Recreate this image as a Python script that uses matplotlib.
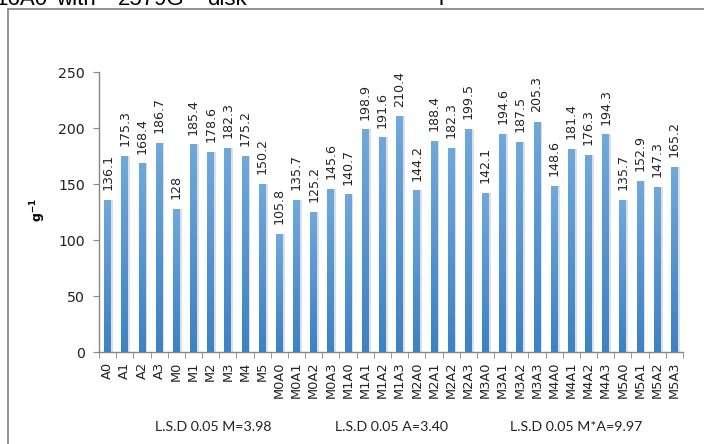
import numpy as np
import matplotlib
matplotlib.use("Agg")
from matplotlib import pyplot as plt
from matplotlib.colors import LinearSegmentedColormap
from matplotlib.lines import Line2D

categories = ["A0", "A1", "A2", "A3",
              "M0", "M1", "M2", "M3", "M4", "M5",
              "M0A0", "M0A1", "M0A2", "M0A3",
              "M1A0", "M1A1", "M1A2", "M1A3",
              "M2A0", "M2A1", "M2A2", "M2A3",
              "M3A0", "M3A1", "M3A2", "M3A3",
              "M4A0", "M4A1", "M4A2", "M4A3",
              "M5A0", "M5A1", "M5A2", "M5A3"]
values = [136.1, 175.3, 168.4, 186.7,
          128, 185.4, 178.6, 182.3, 175.2, 150.2,
          105.8, 135.7, 125.2, 145.6,
          140.7, 198.9, 191.6, 210.4,
          144.2, 188.4, 182.3, 199.5,
          142.1, 194.6, 187.5, 205.3,
          148.6, 181.4, 176.3, 194.3,
          135.7, 152.9, 147.3, 165.2]
value_labels = ["136.1", "175.3", "168.4", "186.7",
                "128", "185.4", "178.6", "182.3", "175.2", "150.2",
                "105.8", "135.7", "125.2", "145.6",
                "140.7", "198.9", "191.6", "210.4",
                "144.2", "188.4", "182.3", "199.5",
                "142.1", "194.6", "187.5", "205.3",
                "148.6", "181.4", "176.3", "194.3",
                "135.7", "152.9", "147.3", "165.2"]
y_ticks = [0, 50, 100, 150, 200, 250]
lsd_notes = ["L.S.D 0.05 M=3.98", "L.S.D 0.05 A=3.40", "L.S.D 0.05 M*A=9.97"]
header_words = ["16A0", "with", "2579G", "disk", "l"]

W, H = 704, 444
fig = plt.figure(figsize=(W / 100, H / 100), dpi=100)
fig.patch.set_facecolor("white")

# line of page text running off the top edge
for px, word in zip([-5, 56, 118, 207, 438], header_words):
    fig.text(px / W, 1 - 5 / H, word, fontsize=16, family="Liberation Sans",
             va="baseline", ha="left", color="black")

# chart frame (top and left edges visible)
fig.add_artist(Line2D([8 / W, 1.0], [1 - 9 / H, 1 - 9 / H],
                      transform=fig.transFigure, color="#8a8a8a", lw=1.3))
fig.add_artist(Line2D([8 / W, 8 / W], [0.0, 1 - 9 / H],
                      transform=fig.transFigure, color="#8a8a8a", lw=1.3))

ax = fig.add_axes([99 / W, (H - 352) / H, (683 - 99) / W, (352 - 72) / H])

x = np.arange(len(categories))
bw = 0.40
grad = LinearSegmentedColormap.from_list("barfill", ["#3b82c8", "#6ea9de"])
g = np.linspace(0, 1, 64).reshape(-1, 1)

# soft shadow behind the bars
ax.bar(x + 0.08, values, width=bw + 0.06, color="#b8b8b8", alpha=0.45,
       edgecolor="none", zorder=1)
bars = ax.bar(x, values, width=bw, color="#5b9bd5", edgecolor="none", zorder=2)
for b in bars:
    x0 = b.get_x()
    h = b.get_height()
    im = ax.imshow(g, cmap=grad, aspect="auto", origin="lower",
                   extent=(x0, x0 + b.get_width(), 0, h), zorder=3)
    im.set_clip_path(b)

for xi, v, lab in zip(x, values, value_labels):
    ax.annotate(lab, (xi, v), xytext=(0, 7), textcoords="offset points",
                rotation=90, ha="center", va="bottom", fontsize=9.1,
                family="DejaVu Sans", color="#222222")

ax.set_xlim(-0.5, len(categories) - 0.5)
ax.set_ylim(0, 250)
ax.set_yticks(y_ticks)
ax.set_yticklabels([str(t) for t in y_ticks], family="DejaVu Sans",
                   fontsize=10.2, color="#222222")
ax.set_xticks(x)
ax.set_xticklabels(categories, rotation=90, family="DejaVu Sans",
                   fontsize=9.4, color="#222222")
ax.tick_params(axis="x", length=0, pad=7)
ax.set_xticks(np.arange(-0.5, len(categories)), minor=True)
ax.tick_params(axis="x", which="minor", length=4, color="#868686")
ax.tick_params(axis="y", length=4, color="#868686", pad=6)

for s in ["top", "right"]:
    ax.spines[s].set_visible(False)
for s in ["left", "bottom"]:
    ax.spines[s].set_color("#868686")
    ax.spines[s].set_linewidth(1.0)

ax.set_ylabel(r"$\mathbf{g^{-1}}$", fontsize=9)
ax.yaxis.set_label_coords(-0.088, 0.507)

for cx, note in zip([213, 392, 576], lsd_notes):
    fig.text(cx / W, 1 - 427 / H, note, ha="center", va="center",
             family="Lato", fontsize=10.2, color="#222222")

fig.savefig("out.png", dpi=100)
